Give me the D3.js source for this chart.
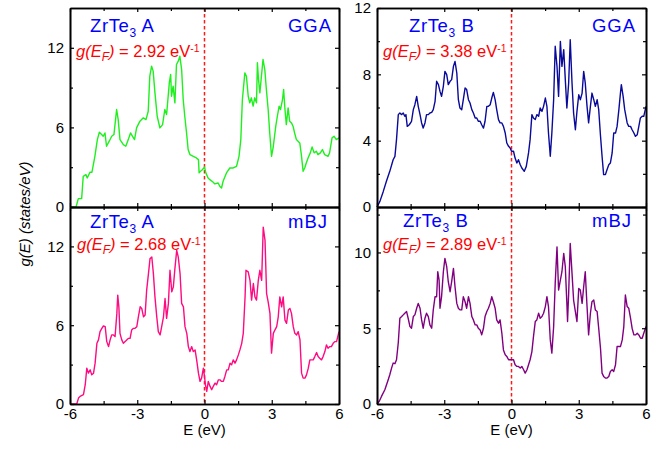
<!DOCTYPE html>
<html>
<head>
<meta charset="utf-8">
<script src="https://cdn.jsdelivr.net/npm/d3@7"></script>
<style>
  body { margin: 0; background: #fff; }
  svg { font-family: Arial, "Liberation Sans", sans-serif; }
</style>
</head>
<body>
<svg id="chart" width="668" height="455"></svg>
<script>
// Density of states, [E (eV), g(E) (states/eV)]
var dosGgaA = [[-6.00,0],[-5.73,0],[-5.63,0.63],[-5.48,0.63],[-5.41,2.31],[-5.29,2.44],[-5.23,2.19],[-5.11,2.62],[-5.02,2.62],[-4.89,3.82],[-4.78,5.08],[-4.69,5.64],[-4.59,5.46],[-4.52,5.33],[-4.44,5.58],[-4.37,4.58],[-4.25,4.96],[-4.14,5.33],[-4.04,5.46],[-3.92,7.35],[-3.85,6.59],[-3.77,5.08],[-3.62,4.70],[-3.51,4.58],[-3.40,5.08],[-3.30,5.58],[-3.21,5.33],[-3.12,5.08],[-3.03,5.96],[-2.88,6.47],[-2.73,6.72],[-2.61,6.59],[-2.51,7.22],[-2.44,9.86],[-2.36,10.62],[-2.29,10.24],[-2.21,8.60],[-2.11,6.84],[-1.99,5.96],[-1.87,6.21],[-1.77,7.35],[-1.69,6.97],[-1.57,9.36],[-1.51,9.99],[-1.47,8.35],[-1.40,9.11],[-1.32,7.85],[-1.25,10.74],[-1.17,10.99],[-1.10,11.37],[-1.02,10.36],[-0.95,8.10],[-0.88,6.84],[-0.80,5.58],[-0.73,4.33],[-0.65,3.95],[-0.50,3.82],[-0.36,3.70],[-0.27,3.57],[-0.24,2.57],[-0.18,2.69],[-0.12,2.77],[-0.03,2.94],[0.00,3.02],[0.06,2.57],[0.16,2.19],[0.24,2.06],[0.39,1.86],[0.46,1.74],[0.61,1.81],[0.68,1.56],[0.76,1.43],[0.83,1.94],[0.98,2.57],[1.13,2.94],[1.28,2.94],[1.43,3.07],[1.54,3.82],[1.62,5.08],[1.69,8.10],[1.80,10.11],[1.87,9.86],[1.95,8.35],[2.02,7.85],[2.09,8.23],[2.17,7.60],[2.24,8.23],[2.32,7.85],[2.36,10.87],[2.41,9.61],[2.47,8.60],[2.54,9.86],[2.61,11.12],[2.69,10.36],[2.76,8.86],[2.84,7.35],[2.91,5.58],[2.99,3.82],[3.06,4.45],[3.18,6.09],[3.25,6.84],[3.33,7.60],[3.39,7.35],[3.48,8.10],[3.53,8.86],[3.59,7.35],[3.65,6.21],[3.73,7.47],[3.80,6.47],[3.88,6.34],[3.95,6.09],[4.02,5.58],[4.10,5.08],[4.25,4.83],[4.32,3.95],[4.40,2.69],[4.47,2.94],[4.54,3.32],[4.62,3.70],[4.72,4.08],[4.80,4.53],[4.89,4.08],[4.99,4.20],[5.06,3.95],[5.17,4.08],[5.26,4.33],[5.36,3.95],[5.51,3.82],[5.58,4.08],[5.69,5.21],[5.78,5.33],[5.88,5.08],[6.00,5.21]];

var dosGgaB = [[-6,0],[-5.87,0.34],[-5.72,0.94],[-5.58,1.55],[-5.43,2.15],[-5.28,2.85],[-5.20,3.05],[-5.13,4.06],[-5.05,5.57],[-4.98,5.67],[-4.90,5.57],[-4.83,5.67],[-4.76,5.47],[-4.71,5.57],[-4.65,4.86],[-4.56,4.96],[-4.46,5.17],[-4.38,5.87],[-4.31,6.17],[-4.23,6.67],[-4.16,6.07],[-4.08,5.57],[-4.01,5.07],[-3.94,4.76],[-3.86,5.07],[-3.79,5.57],[-3.71,5.57],[-3.64,5.67],[-3.56,5.71],[-3.49,5.87],[-3.41,6.37],[-3.34,7.58],[-3.26,7.38],[-3.19,6.97],[-3.12,6.67],[-3.04,7.28],[-2.97,8.18],[-2.89,7.98],[-2.82,7.38],[-2.74,7.58],[-2.67,7.68],[-2.59,8.48],[-2.52,8.78],[-2.44,8.08],[-2.37,6.47],[-2.30,5.97],[-2.22,5.87],[-2.15,6.47],[-2.07,7.18],[-2.00,7.08],[-1.92,6.47],[-1.85,6.27],[-1.77,5.87],[-1.70,5.67],[-1.62,5.37],[-1.55,5.37],[-1.48,5.17],[-1.40,5.17],[-1.33,4.96],[-1.25,4.76],[-1.18,5.17],[-1.10,6.07],[-1.03,6.07],[-0.95,6.17],[-0.88,6.57],[-0.81,6.91],[-0.73,6.47],[-0.66,5.87],[-0.58,5.27],[-0.51,5.07],[-0.43,5.07],[-0.36,4.86],[-0.28,4.46],[-0.21,3.86],[-0.13,3.66],[-0.06,3.56],[0,3.36],[0.09,3.36],[0.16,2.95],[0.24,2.65],[0.31,2.85],[0.39,2.55],[0.46,2.35],[0.57,2.15],[0.66,2.45],[0.76,3.26],[0.83,4.06],[0.91,5.57],[0.98,5.37],[1.06,5.27],[1.13,5.57],[1.21,5.47],[1.28,5.97],[1.36,5.77],[1.43,6.07],[1.51,6.57],[1.58,6.07],[1.65,4.46],[1.73,3.06],[1.80,4.46],[1.88,6.47],[1.95,9.69],[2.03,8.48],[2.10,6.67],[2.18,9.99],[2.25,8.48],[2.33,9.49],[2.40,7.68],[2.47,5.97],[2.55,7.48],[2.62,10.09],[2.70,7.48],[2.77,5.67],[2.85,4.66],[2.92,5.77],[3.00,6.77],[3.07,6.47],[3.15,6.87],[3.22,8.18],[3.29,7.48],[3.37,6.07],[3.44,5.07],[3.52,6.07],[3.59,6.87],[3.67,6.47],[3.74,6.07],[3.82,6.47],[3.89,5.87],[3.97,4.30],[4.04,3.06],[4.11,1.95],[4.19,1.95],[4.26,2.25],[4.34,2.55],[4.41,2.65],[4.49,3.26],[4.56,4.46],[4.64,4.46],[4.71,4.86],[4.79,5.87],[4.86,6.87],[4.90,7.38],[4.98,6.67],[5.05,5.87],[5.16,5.07],[5.23,4.86],[5.31,4.86],[5.38,4.66],[5.46,4.46],[5.53,4.26],[5.61,4.36],[5.68,4.86],[5.75,5.37],[5.83,5.47],[5.90,5.47],[6,6.07]];

var dosMbjA = [[-6,0],[-5.70,0],[-5.62,0.45],[-5.55,0.58],[-5.40,0.71],[-5.32,1.47],[-5.25,2.73],[-5.18,2.35],[-5.10,2.60],[-5.03,2.22],[-4.95,2.35],[-4.88,3.11],[-4.80,4.62],[-4.73,4.88],[-4.66,5.51],[-4.58,5.76],[-4.51,5.94],[-4.43,5.89],[-4.36,4.75],[-4.28,4.37],[-4.21,4.88],[-4.14,5.26],[-4.06,5.26],[-3.99,5.13],[-3.91,6.90],[-3.87,8.29],[-3.82,7.40],[-3.77,5.38],[-3.69,4.88],[-3.62,4.62],[-3.54,4.75],[-3.47,4.88],[-3.39,5.0],[-3.32,5.0],[-3.25,5.63],[-3.17,5.76],[-3.10,5.76],[-3.02,5.89],[-2.95,6.64],[-2.87,7.40],[-2.80,7.28],[-2.72,6.64],[-2.65,6.77],[-2.58,8.67],[-2.50,9.93],[-2.43,11.07],[-2.35,11.19],[-2.28,9.93],[-2.21,8.16],[-2.13,6.64],[-2.06,5.51],[-1.98,5.26],[-1.91,5.89],[-1.83,6.64],[-1.76,8.03],[-1.69,6.52],[-1.61,7.66],[-1.54,10.18],[-1.46,8.54],[-1.39,8.92],[-1.32,10.31],[-1.24,11.70],[-1.17,11.19],[-1.09,9.93],[-1.02,7.66],[-0.94,7.40],[-0.87,5.89],[-0.79,5.38],[-0.72,4.37],[-0.65,3.99],[-0.57,4.37],[-0.50,3.99],[-0.42,4.12],[-0.35,3.36],[-0.27,2.35],[-0.20,1.72],[-0.13,1.97],[-0.05,2.73],[0,2.10],[0.04,1.47],[0.10,0.96],[0.17,1.72],[0.25,1.34],[0.32,1.09],[0.39,1.34],[0.47,1.59],[0.54,1.47],[0.62,1.84],[0.69,1.84],[0.76,1.72],[0.84,1.72],[0.91,2.10],[0.99,2.60],[1.06,2.60],[1.14,3.11],[1.21,2.98],[1.28,3.36],[1.36,3.11],[1.43,3.36],[1.51,3.74],[1.58,4.12],[1.66,4.62],[1.73,5.38],[1.81,8.16],[1.85,10.18],[1.95,10.06],[2.03,9.42],[2.10,7.91],[2.18,9.17],[2.25,8.16],[2.32,7.91],[2.40,9.42],[2.47,10.18],[2.55,9.42],[2.62,13.47],[2.70,12.46],[2.77,8.41],[2.84,7.78],[2.92,6.90],[2.99,3.87],[3.07,5.38],[3.14,5.63],[3.22,5.89],[3.29,6.64],[3.36,8.16],[3.44,7.40],[3.51,8.16],[3.59,6.39],[3.66,6.14],[3.74,7.15],[3.81,7.28],[3.88,6.90],[3.96,5.89],[4.03,5.38],[4.11,5.26],[4.18,5.51],[4.26,4.88],[4.33,2.35],[4.40,1.97],[4.48,1.97],[4.55,2.22],[4.63,2.73],[4.70,3.36],[4.77,3.36],[4.85,3.36],[4.92,3.61],[5.00,3.92],[5.07,3.61],[5.14,3.49],[5.22,3.36],[5.29,3.61],[5.37,3.99],[5.44,4.50],[5.51,4.24],[5.59,4.37],[5.66,4.37],[5.74,4.62],[5.81,4.75],[5.89,4.75],[6,5.51]];

var dosMbjB = [[-6,0],[-5.90,0.18],[-5.80,0.50],[-5.65,0.94],[-5.50,1.60],[-5.43,1.93],[-5.35,2.37],[-5.28,2.70],[-5.20,2.66],[-5.13,2.92],[-5.05,4.06],[-4.98,5.66],[-4.90,5.77],[-4.83,5.88],[-4.76,5.99],[-4.68,6.10],[-4.61,5.66],[-4.53,5.11],[-4.46,5.0],[-4.38,5.77],[-4.31,5.88],[-4.23,6.32],[-4.16,6.64],[-4.08,6.32],[-4.01,5.55],[-3.94,5.0],[-3.86,5.66],[-3.79,5.99],[-3.71,5.77],[-3.64,5.22],[-3.56,5.0],[-3.49,6.21],[-3.41,7.08],[-3.34,7.08],[-3.29,8.73],[-3.23,8.18],[-3.19,6.32],[-3.12,7.08],[-3.04,8.73],[-2.97,9.61],[-2.89,9.06],[-2.82,8.07],[-2.74,7.41],[-2.67,8.07],[-2.59,8.95],[-2.52,7.74],[-2.44,6.64],[-2.37,6.32],[-2.30,6.21],[-2.22,6.21],[-2.15,7.08],[-2.07,6.75],[-2.00,6.32],[-1.92,7.08],[-1.85,6.64],[-1.77,5.77],[-1.70,5.55],[-1.62,5.22],[-1.55,5.22],[-1.48,5.0],[-1.40,4.89],[-1.33,4.56],[-1.25,5.0],[-1.18,5.77],[-1.10,6.10],[-1.03,6.32],[-0.95,6.64],[-0.88,7.08],[-0.81,6.75],[-0.73,6.32],[-0.66,5.55],[-0.58,5.33],[-0.51,5.55],[-0.43,4.67],[-0.36,3.57],[-0.28,3.25],[-0.21,3.14],[-0.13,2.92],[-0.06,2.92],[0,2.92],[0.09,2.92],[0.16,2.59],[0.24,2.48],[0.31,2.48],[0.39,2.37],[0.46,2.48],[0.54,2.26],[0.61,2.04],[0.69,2.26],[0.76,2.59],[0.83,2.92],[0.91,3.46],[0.98,4.45],[1.06,5.44],[1.13,5.55],[1.21,5.99],[1.28,5.66],[1.36,5.77],[1.43,5.99],[1.51,6.43],[1.58,7.08],[1.65,6.43],[1.73,4.23],[1.80,3.36],[1.88,5.11],[1.95,7.96],[2.03,10.37],[2.10,7.52],[2.18,8.18],[2.25,8.73],[2.33,9.94],[2.40,9.06],[2.47,6.64],[2.50,5.44],[2.55,7.30],[2.62,10.59],[2.70,8.62],[2.77,6.86],[2.85,6.10],[2.92,5.44],[3.00,7.63],[3.07,7.52],[3.15,6.64],[3.22,7.74],[3.29,8.73],[3.37,6.43],[3.44,4.56],[3.52,5.99],[3.59,6.75],[3.67,6.86],[3.74,6.21],[3.82,6.10],[3.89,5.0],[3.97,3.68],[4.04,2.04],[4.11,1.82],[4.19,1.71],[4.26,1.71],[4.34,1.82],[4.41,2.15],[4.49,2.26],[4.56,2.15],[4.64,2.59],[4.71,3.79],[4.79,3.79],[4.86,3.79],[4.94,4.23],[5.01,5.11],[5.08,7.19],[5.16,6.43],[5.23,6.32],[5.31,5.66],[5.38,5.0],[5.46,4.56],[5.53,4.56],[5.61,4.67],[5.68,4.56],[5.76,4.34],[5.83,4.34],[5.90,4.67],[6,5.11]];

var energyTicks = [-6, -3, 0, 3, 6];
var energyMinor = [-4.5, -1.5, 1.5, 4.5];
var phases = ["A", "B", "A", "B"];
var methods = ["GGA", "GGA", "mBJ", "mBJ"];
var gAtFermi = ["2.92", "3.38", "2.68", "2.89"];
var yMax = [15, 12, 15, 13];
var yMajor = [[0, 6, 12], [0, 4, 8, 12], [0, 6, 12], [0, 5, 10]];
var yMinor = [[3, 9], [2, 6, 10], [3, 9], [2.5, 7.5, 12.5]];
var lineColors = ["#1ef01e", "#0a0a9a", "#ff0a80", "#800080"];

var allDos = [dosGgaA, dosGgaB, dosMbjA, dosMbjB];

var svg = d3.select("#chart");

// panel boxes and label spots
var boxes = [
  {x0: 70, x1: 339, y0: 8, y1: 207, lx: 90, ly: 31.5, mx: 332, gx: 76, gy: 57},
  {x0: 377, x1: 646, y0: 8, y1: 207, lx: 409, ly: 31.5, mx: 636, gx: 383, gy: 57},
  {x0: 70, x1: 339, y0: 207, y1: 404, lx: 90, ly: 228, mx: 328, gx: 77, gy: 250},
  {x0: 377, x1: 646, y0: 207, y1: 404, lx: 403, ly: 227, mx: 632, gx: 383, gy: 250}
];

var plain = function(d) { return String(d); };

function styleAxis(sel) {
  sel.select(".domain").attr("stroke", "#000").attr("stroke-width", 1.6);
  sel.selectAll(".tick line").attr("stroke", "#000").attr("stroke-width", 1.2);
  sel.selectAll("text").attr("fill", "#000").attr("font-size", 15)
    .attr("font-family", "Arial, 'Liberation Sans', sans-serif");
}

boxes.forEach(function(b, i) {
  var x = d3.scaleLinear().domain([-6, 6]).range([b.x0, b.x1]);
  var y = d3.scaleLinear().domain([0, yMax[i]]).range([b.y1, b.y0]);
  var bottomRow = i >= 2;
  var g = svg.append("g");

  // Fermi level
  g.append("line")
    .attr("x1", x(0)).attr("x2", x(0))
    .attr("y1", b.y0).attr("y2", b.y1)
    .attr("stroke", "#ff1a1a").attr("stroke-width", 1.5)
    .attr("stroke-dasharray", "3.5,2.5");

  var line = d3.line()
    .x(function(d) { return x(d[0]); })
    .y(function(d) { return y(d[1]); });

  g.append("path")
    .datum(allDos[i])
    .attr("fill", "none")
    .attr("stroke", lineColors[i])
    .attr("stroke-width", 1.4)
    .attr("stroke-linejoin", "round")
    .attr("d", line);

  // left axis with labels, others bare
  g.append("g").attr("transform", "translate(" + b.x0 + ",0)")
    .call(d3.axisLeft(y).tickValues(yMajor[i]).tickSize(-4).tickSizeOuter(0).tickPadding(6).tickFormat(plain))
    .call(styleAxis);
  g.append("g").attr("transform", "translate(" + b.x0 + ",0)")
    .call(d3.axisLeft(y).tickValues(yMinor[i]).tickSize(-3).tickSizeOuter(0).tickFormat(""))
    .call(styleAxis);
  g.append("g").attr("transform", "translate(" + b.x1 + ",0)")
    .call(d3.axisRight(y).tickValues(yMajor[i]).tickSize(-4).tickSizeOuter(0).tickFormat(""))
    .call(styleAxis);
  g.append("g").attr("transform", "translate(" + b.x1 + ",0)")
    .call(d3.axisRight(y).tickValues(yMinor[i]).tickSize(-3).tickSizeOuter(0).tickFormat(""))
    .call(styleAxis);

  var xb = d3.axisBottom(x).tickValues(energyTicks).tickSize(-4).tickSizeOuter(0).tickPadding(4)
    .tickFormat(bottomRow ? plain : "");
  g.append("g").attr("transform", "translate(0," + b.y1 + ")").call(xb).call(styleAxis);
  g.append("g").attr("transform", "translate(0," + b.y1 + ")")
    .call(d3.axisBottom(x).tickValues(energyMinor).tickSize(-3).tickSizeOuter(0).tickFormat(""))
    .call(styleAxis);
  g.append("g").attr("transform", "translate(0," + b.y0 + ")")
    .call(d3.axisTop(x).tickValues(energyTicks).tickSize(-4).tickSizeOuter(0).tickFormat(""))
    .call(styleAxis);
  g.append("g").attr("transform", "translate(0," + b.y0 + ")")
    .call(d3.axisTop(x).tickValues(energyMinor).tickSize(-3).tickSizeOuter(0).tickFormat(""))
    .call(styleAxis);

  // compound label
  var t = g.append("text").attr("x", b.lx).attr("y", b.ly)
    .attr("fill", "#0000ff").attr("font-size", 18.5).attr("letter-spacing", 0.6);
  t.append("tspan").text("ZrTe");
  t.append("tspan").attr("font-size", 12).attr("dy", 5).text("3");
  t.append("tspan").attr("dy", -5).text(" " + phases[i]);

  g.append("text").attr("x", b.mx).attr("y", b.ly)
    .attr("fill", "#0000ff").attr("font-size", 18.5).attr("letter-spacing", 1)
    .attr("text-anchor", "end").text(methods[i]);

  // g(E_F) label
  var r = g.append("text").attr("x", b.gx).attr("y", b.gy)
    .attr("fill", "#ff0000").attr("font-size", 16.5);
  r.append("tspan").attr("font-style", "italic").text("g(E");
  r.append("tspan").attr("font-style", "italic").attr("font-size", 12).attr("dy", 4).text("F");
  r.append("tspan").attr("font-style", "italic").attr("dy", -4).text(")");
  r.append("tspan").text(" = " + gAtFermi[i] + " eV");
  r.append("tspan").attr("font-size", 10.5).attr("dy", -5).text("-1");

  if (bottomRow) {
    g.append("text")
      .attr("x", (b.x0 + b.x1) / 2).attr("y", 435)
      .attr("text-anchor", "middle").attr("font-size", 15)
      .text("E (eV)");
  }
});

// shared y title
svg.append("text")
  .attr("transform", "translate(30,214) rotate(-90)")
  .attr("text-anchor", "middle")
  .attr("font-size", 15)
  .attr("font-style", "italic")
  .text("g(E) (states/eV)");
</script>
</body>
</html>
